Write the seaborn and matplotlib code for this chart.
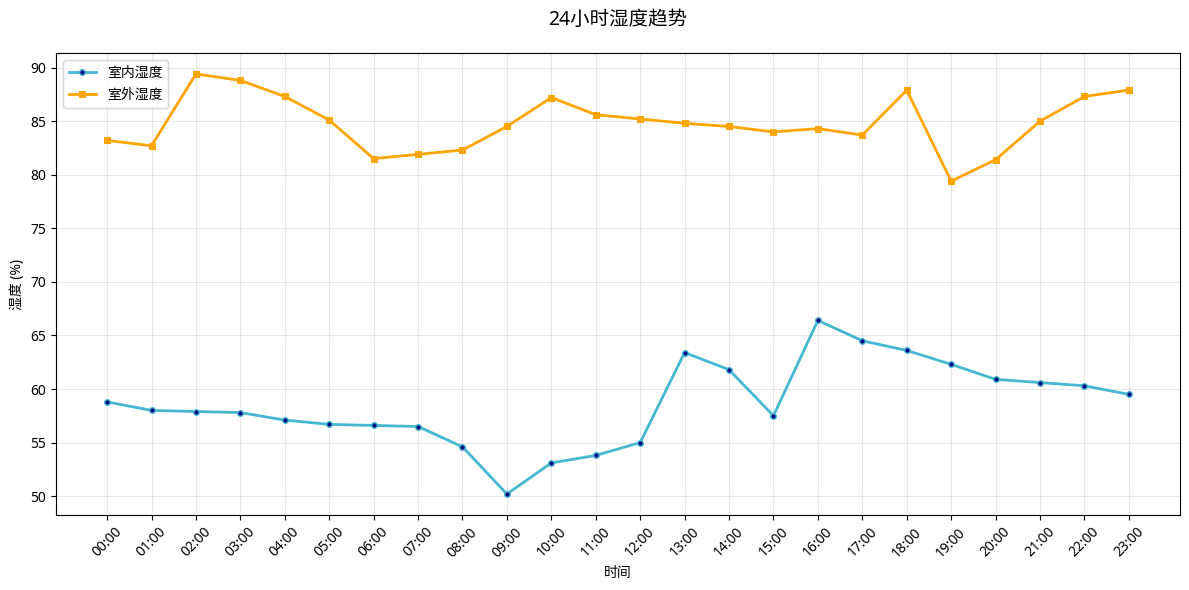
import numpy as np
import pandas as pd
import matplotlib
matplotlib.use("Agg")
import matplotlib.pyplot as plt
import seaborn as sns

hours = ["%02d:00" % h for h in range(24)]
indoor = [58.8, 58.0, 57.9, 57.8, 57.1, 56.7, 56.6, 56.5, 54.6, 50.2, 53.1, 53.8,
          55.0, 63.4, 61.8, 57.5, 66.4, 64.5, 63.6, 62.3, 60.9, 60.6, 60.3, 59.5]
outdoor = [83.2, 82.7, 89.4, 88.8, 87.3, 85.1, 81.5, 81.9, 82.3, 84.5, 87.2, 85.6,
           85.2, 84.8, 84.5, 84.0, 84.3, 83.7, 87.9, 79.4, 81.4, 85.0, 87.3, 87.9]

plt.rcdefaults()
plt.rcParams['font.family'] = ['Noto Sans', 'Noto Sans CJK SC', 'DejaVu Sans']
plt.rcParams['axes.unicode_minus'] = False

df = pd.DataFrame({"时间": hours, "室内湿度": indoor, "室外湿度": outdoor})

fig, ax = plt.subplots(figsize=(11.89, 5.9), dpi=100)
sns.lineplot(data=df, x="时间", y="室内湿度", ax=ax, color="#45B7D1", linewidth=2,
             marker="o", markersize=4, markerfacecolor="navy", markeredgecolor="#45B7D1",
             markeredgewidth=1, label="室内湿度", sort=False)
sns.lineplot(data=df, x="时间", y="室外湿度", ax=ax, color="orange", linewidth=2,
             marker="s", markersize=5, markeredgecolor="orange",
             label="室外湿度", sort=False)

ax.set_title("24小时湿度趋势", fontsize=14, pad=20)
ax.set_xlabel("时间")
ax.set_ylabel("湿度 (%)")
ax.grid(True, alpha=0.3)
ax.legend(loc="upper left")
plt.setp(ax.get_xticklabels(), rotation=45)
fig.subplots_adjust(left=0.0471, right=0.9924, top=0.9102, bottom=0.1271)
plt.savefig("out.png", dpi=100)
